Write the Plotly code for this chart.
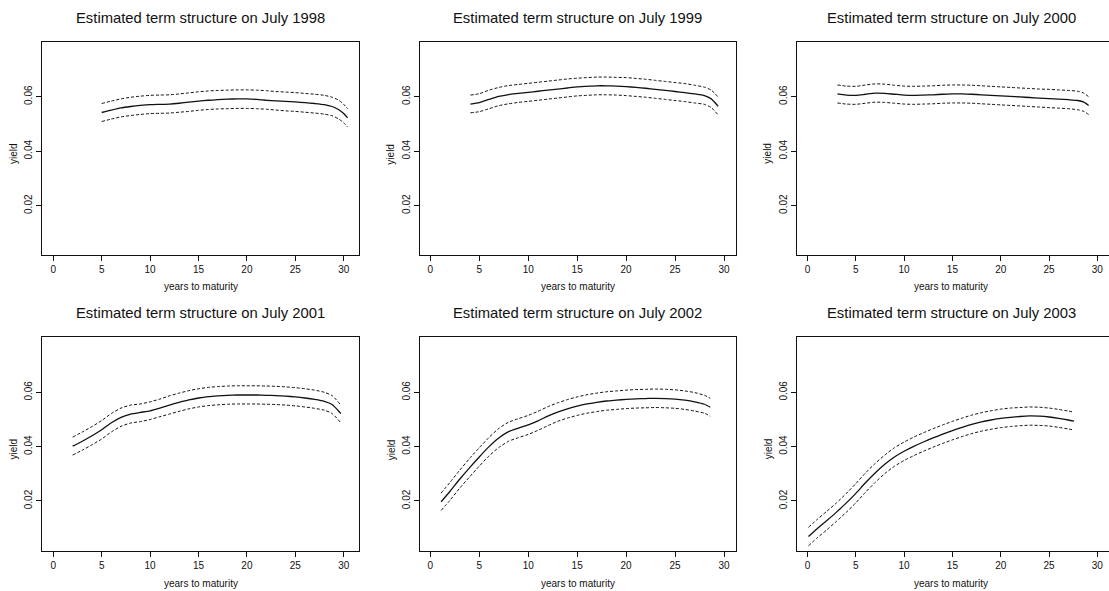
import plotly.graph_objects as go

# ---- estimated yield curves (maturity in years, yield, 95% bands) ----
years = ["1998", "1999", "2000", "2001", "2002", "2003"]

mat_1998 = [5, 6, 7, 8, 9, 10, 11, 12, 13, 14, 15, 16, 17, 18, 19, 20, 21, 22, 23, 24, 25, 26, 27, 28, 28.8, 29.5, 30, 30.4]
mid_1998 = [0.0542, 0.0551, 0.0559, 0.0564, 0.0568, 0.0571, 0.0572, 0.0573, 0.0576, 0.0580, 0.0584, 0.0587, 0.0589, 0.0591, 0.0592, 0.0592, 0.0590, 0.0587, 0.0585, 0.0583, 0.0581, 0.0578, 0.0575, 0.0571, 0.0564, 0.0552, 0.0538, 0.0522]
up_1998 = [0.0575, 0.0584, 0.0592, 0.0598, 0.0602, 0.0605, 0.0606, 0.0607, 0.0610, 0.0614, 0.0618, 0.0621, 0.0623, 0.0624, 0.0625, 0.0625, 0.0624, 0.0622, 0.0619, 0.0617, 0.0615, 0.0612, 0.0609, 0.0605, 0.0598, 0.0587, 0.0572, 0.0556]
lo_1998 = [0.0509, 0.0518, 0.0526, 0.0531, 0.0535, 0.0538, 0.0539, 0.0540, 0.0543, 0.0546, 0.0550, 0.0553, 0.0555, 0.0556, 0.0557, 0.0557, 0.0556, 0.0554, 0.0551, 0.0548, 0.0546, 0.0543, 0.0540, 0.0536, 0.0530, 0.0518, 0.0504, 0.0489]

mat_1999 = [4.1, 5, 6, 7, 8, 9, 10, 11, 12, 13, 14, 15, 16, 17, 18, 19, 20, 21, 22, 23, 24, 25, 26, 27, 28, 28.7, 29.4]
mid_1999 = [0.0573, 0.0578, 0.0590, 0.0601, 0.0608, 0.0612, 0.0616, 0.0620, 0.0624, 0.0628, 0.0632, 0.0636, 0.0638, 0.0640, 0.0640, 0.0639, 0.0637, 0.0634, 0.0631, 0.0627, 0.0623, 0.0619, 0.0615, 0.0610, 0.0604, 0.0592, 0.0565]
up_1999 = [0.0606, 0.0611, 0.0624, 0.0634, 0.0641, 0.0645, 0.0649, 0.0653, 0.0657, 0.0661, 0.0665, 0.0668, 0.0670, 0.0672, 0.0672, 0.0671, 0.0670, 0.0667, 0.0664, 0.0660, 0.0656, 0.0652, 0.0648, 0.0642, 0.0635, 0.0624, 0.0599]
lo_1999 = [0.0541, 0.0545, 0.0556, 0.0567, 0.0574, 0.0579, 0.0583, 0.0587, 0.0591, 0.0595, 0.0599, 0.0603, 0.0605, 0.0607, 0.0607, 0.0606, 0.0604, 0.0601, 0.0598, 0.0594, 0.0590, 0.0586, 0.0582, 0.0577, 0.0572, 0.0560, 0.0533]

mat_2000 = [3.1, 4, 5, 6, 7, 8, 9, 10, 11, 12, 13, 14, 15, 16, 17, 18, 19, 20, 21, 22, 23, 24, 25, 26, 27, 28, 28.6, 29.1]
mid_2000 = [0.0610, 0.0606, 0.0605, 0.0609, 0.0613, 0.0612, 0.0609, 0.0606, 0.0605, 0.0606, 0.0607, 0.0609, 0.0610, 0.0610, 0.0609, 0.0607, 0.0605, 0.0603, 0.0601, 0.0599, 0.0597, 0.0595, 0.0593, 0.0591, 0.0589, 0.0586, 0.0580, 0.0568]
up_2000 = [0.0643, 0.0639, 0.0638, 0.0643, 0.0647, 0.0646, 0.0642, 0.0639, 0.0638, 0.0639, 0.0640, 0.0642, 0.0643, 0.0643, 0.0642, 0.0640, 0.0638, 0.0636, 0.0634, 0.0632, 0.0630, 0.0628, 0.0627, 0.0625, 0.0623, 0.0620, 0.0613, 0.0600]
lo_2000 = [0.0577, 0.0573, 0.0572, 0.0576, 0.0580, 0.0579, 0.0576, 0.0573, 0.0572, 0.0573, 0.0574, 0.0576, 0.0577, 0.0577, 0.0576, 0.0574, 0.0572, 0.0570, 0.0568, 0.0566, 0.0564, 0.0562, 0.0560, 0.0558, 0.0556, 0.0552, 0.0546, 0.0535]

mat_2001 = [2, 3, 4, 5, 6, 7, 8, 9, 10, 11, 12, 13, 14, 15, 16, 17, 18, 19, 20, 21, 22, 23, 24, 25, 26, 27, 28, 28.8, 29.7]
mid_2001 = [0.0402, 0.0420, 0.0440, 0.0462, 0.0488, 0.0508, 0.0520, 0.0526, 0.0532, 0.0542, 0.0553, 0.0563, 0.0572, 0.0579, 0.0584, 0.0587, 0.0589, 0.0590, 0.0590, 0.0590, 0.0589, 0.0588, 0.0586, 0.0583, 0.0579, 0.0574, 0.0567, 0.0555, 0.0522]
up_2001 = [0.0435, 0.0454, 0.0474, 0.0496, 0.0522, 0.0542, 0.0553, 0.0557, 0.0565, 0.0575, 0.0587, 0.0597, 0.0606, 0.0613, 0.0618, 0.0621, 0.0623, 0.0624, 0.0624, 0.0624, 0.0623, 0.0622, 0.0620, 0.0617, 0.0613, 0.0608, 0.0600, 0.0588, 0.0553]
lo_2001 = [0.0369, 0.0387, 0.0407, 0.0428, 0.0454, 0.0475, 0.0487, 0.0492, 0.0500, 0.0510, 0.0520, 0.0530, 0.0539, 0.0546, 0.0551, 0.0554, 0.0556, 0.0557, 0.0557, 0.0557, 0.0556, 0.0555, 0.0553, 0.0550, 0.0546, 0.0541, 0.0534, 0.0522, 0.0488]

mat_2002 = [1.1, 2, 3, 4, 5, 6, 7, 8, 9, 10, 11, 12, 13, 14, 15, 16, 17, 18, 19, 20, 21, 22, 23, 24, 25, 26, 27, 28, 28.6]
mid_2002 = [0.0197, 0.0235, 0.0280, 0.0322, 0.0362, 0.0400, 0.0432, 0.0455, 0.0468, 0.0480, 0.0495, 0.0512, 0.0527, 0.0539, 0.0549, 0.0557, 0.0563, 0.0568, 0.0571, 0.0574, 0.0576, 0.0577, 0.0578, 0.0577, 0.0575, 0.0571, 0.0565, 0.0556, 0.0545]
up_2002 = [0.0229, 0.0268, 0.0313, 0.0356, 0.0396, 0.0434, 0.0467, 0.0490, 0.0503, 0.0515, 0.0530, 0.0547, 0.0561, 0.0573, 0.0583, 0.0591, 0.0597, 0.0602, 0.0605, 0.0608, 0.0610, 0.0611, 0.0612, 0.0611, 0.0609, 0.0605, 0.0599, 0.0589, 0.0578]
lo_2002 = [0.0165, 0.0202, 0.0247, 0.0288, 0.0328, 0.0366, 0.0397, 0.0420, 0.0433, 0.0445, 0.0460, 0.0477, 0.0493, 0.0505, 0.0515, 0.0523, 0.0529, 0.0534, 0.0537, 0.0540, 0.0542, 0.0543, 0.0544, 0.0543, 0.0541, 0.0537, 0.0531, 0.0523, 0.0512]

mat_2003 = [0.1, 1, 2, 3, 4, 5, 6, 7, 8, 9, 10, 11, 12, 13, 14, 15, 16, 17, 18, 19, 20, 21, 22, 23, 24, 25, 26, 27, 27.6]
mid_2003 = [0.0069, 0.0098, 0.0128, 0.0159, 0.0192, 0.0228, 0.0267, 0.0303, 0.0335, 0.0362, 0.0383, 0.0401, 0.0417, 0.0432, 0.0446, 0.0459, 0.0471, 0.0482, 0.0491, 0.0498, 0.0504, 0.0508, 0.0511, 0.0513, 0.0512, 0.0509, 0.0504, 0.0498, 0.0494]
up_2003 = [0.0103, 0.0132, 0.0162, 0.0193, 0.0227, 0.0264, 0.0303, 0.0338, 0.0369, 0.0396, 0.0417, 0.0435, 0.0451, 0.0466, 0.0480, 0.0493, 0.0505, 0.0516, 0.0525, 0.0532, 0.0538, 0.0542, 0.0544, 0.0546, 0.0545, 0.0542, 0.0537, 0.0531, 0.0527]
lo_2003 = [0.0035, 0.0064, 0.0094, 0.0125, 0.0158, 0.0193, 0.0232, 0.0268, 0.0301, 0.0328, 0.0349, 0.0367, 0.0383, 0.0398, 0.0412, 0.0425, 0.0437, 0.0448, 0.0457, 0.0464, 0.0470, 0.0474, 0.0477, 0.0479, 0.0478, 0.0476, 0.0471, 0.0465, 0.0461]

x_ticks = [0, 5, 10, 15, 20, 25, 30]
y_ticks = [0.02, 0.04, 0.06]
y_tick_labels = ["0.02", "0.04", "0.06"]

panels = [
    (mat_1998, mid_1998, up_1998, lo_1998),
    (mat_1999, mid_1999, up_1999, lo_1999),
    (mat_2000, mid_2000, up_2000, lo_2000),
    (mat_2001, mid_2001, up_2001, lo_2001),
    (mat_2002, mid_2002, up_2002, lo_2002),
    (mat_2003, mid_2003, up_2003, lo_2003),
]

# ---- page geometry (pixels) ----
W, H = 1109, 591
# per column: box left, box right, pixel of x=0, pixels per year
cols = [(42.3, 359.0, 53.3, 9.68),
        (420.0, 735.7, 430.3, 9.79),
        (797.0, 1109.0, 807.5, 9.66)]
# per row: box top, box bottom, pixel of y=0.06, pixels per unit yield
rows = [(42.3, 255.0, 96.7, 2725.0),
        (337.3, 551.0, 392.3, 2717.0)]

FONT = "Liberation Sans, Arial, Helvetica, sans-serif"
INK = "#111111"

fig = go.Figure()
layout = dict(width=W, height=H, margin=dict(l=0, r=0, t=0, b=0),
              paper_bgcolor="white", plot_bgcolor="white",
              showlegend=False, font=dict(family=FONT, color=INK))
annotations = []

for i, (mat, mid, up, lo) in enumerate(panels):
    r, c = divmod(i, 3)
    left, right, x0px, ppx = cols[c]
    top, bottom, y06px, ppy = rows[r]
    xr = [(left - x0px) / ppx, (right - x0px) / ppx]
    yr = [0.06 - (bottom - y06px) / ppy, 0.06 + (y06px - top) / ppy]
    sfx = "" if i == 0 else str(i + 1)
    xa, ya = "x" + sfx, "y" + sfx

    for ys, dash, w in ((up, "3px,2px", 1.0), (lo, "3px,2px", 1.0), (mid, "solid", 1.3)):
        fig.add_trace(go.Scatter(
            x=mat, y=ys, xaxis=xa, yaxis=ya, mode="lines",
            line=dict(color=INK, width=w, dash=dash, shape="spline", smoothing=0.6),
            hoverinfo="skip"))

    layout["xaxis" + sfx] = dict(
        domain=[left / W, right / W], range=xr, anchor=ya,
        showline=True, linecolor=INK, linewidth=1, mirror=True,
        ticks="outside", ticklen=5, tickcolor=INK, tickwidth=1,
        tickvals=x_ticks, tickfont=dict(size=10, color=INK),
        showgrid=False, zeroline=False, fixedrange=True)
    layout["yaxis" + sfx] = dict(
        domain=[1 - bottom / H, 1 - top / H], range=yr, anchor=xa,
        showline=True, linecolor=INK, linewidth=1, mirror=(c < 2),
        ticks="outside", ticklen=5, tickcolor=INK, tickwidth=1,
        tickvals=y_ticks, ticktext=y_tick_labels, tickangle=-90,
        tickfont=dict(size=10, color=INK),
        showgrid=False, zeroline=False, fixedrange=True)

    cx = (left + right) / 2 if c < 2 else 951.0
    annotations.append(dict(
        text="Estimated term structure on July " + years[i],
        x=cx / W, y=1 - (top - 24) / H, xref="paper", yref="paper",
        xanchor="center", yanchor="middle", showarrow=False,
        font=dict(size=14.8, color=INK)))
    annotations.append(dict(
        text="years to maturity", x=cx / W, y=1 - (bottom + 32) / H,
        xref="paper", yref="paper", xanchor="center", yanchor="middle",
        showarrow=False, font=dict(size=10, color=INK)))
    annotations.append(dict(
        text="yield", x=(left - 29) / W, y=1 - ((top + bottom) / 2 + 5) / H,
        xref="paper", yref="paper", xanchor="center", yanchor="middle",
        textangle=-90, showarrow=False, font=dict(size=10, color=INK)))

layout["annotations"] = annotations
fig.update_layout(**layout)
fig.write_html("out.html")
